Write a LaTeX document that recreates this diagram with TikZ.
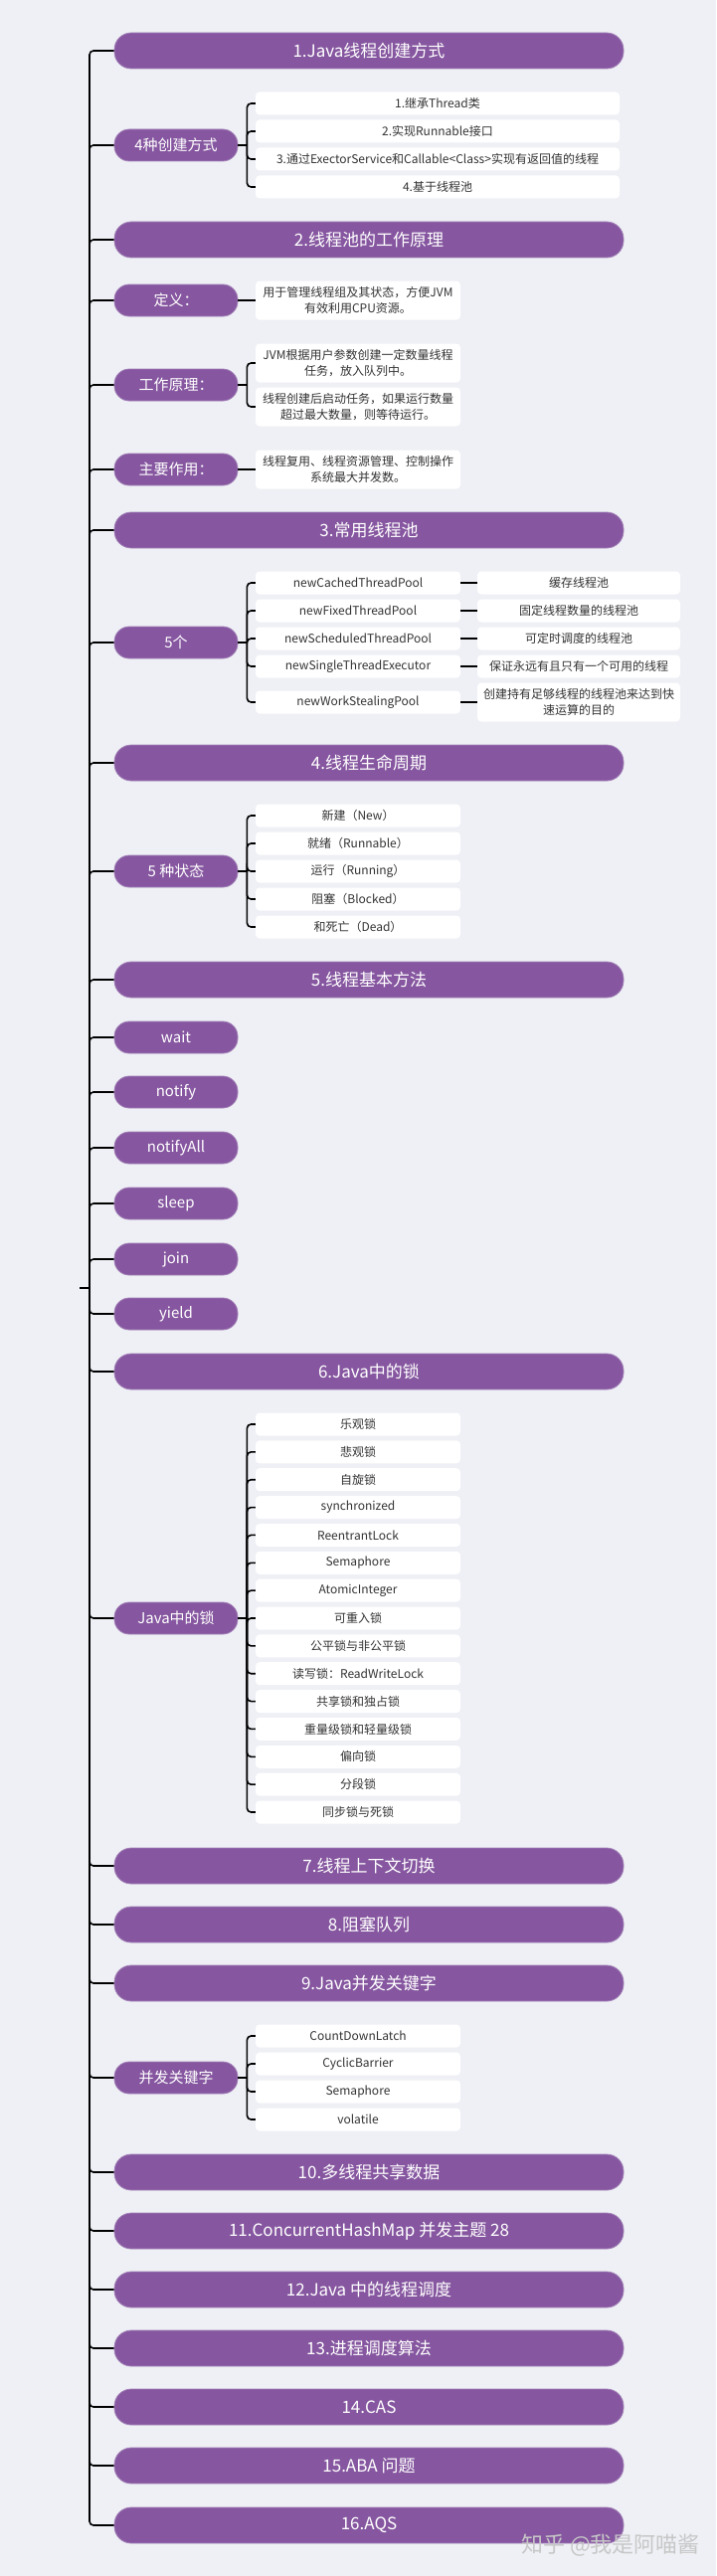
\documentclass[tikz,border=0pt]{standalone}
\usepackage{fontspec}
\setmainfont{Noto Sans CJK SC}
\definecolor{topicpurple}{RGB}{134,87,160}
\definecolor{pagebg}{RGB}{238,240,245}
\definecolor{leaftext}{RGB}{51,51,51}

\begin{document}
\begin{tikzpicture}[x=1pt, y=-1pt,
  every node/.style={align=center, inner sep=0pt},
  topicbar/.style={fill=topicpurple, draw=topicpurple!75!white, line width=0.8pt, rounded corners=17pt, minimum width=512pt, minimum height=36pt, text=white, font=\fontsize{17}{20}\selectfont},
  subtopic/.style={fill=topicpurple, draw=topicpurple!75!white, line width=0.8pt, rounded corners=15pt, minimum width=124pt, minimum height=32pt, text=white, font=\fontsize{15}{18}\selectfont},
  leafbox/.style={fill=white, rounded corners=4pt, minimum width=206pt, minimum height=23pt, text=leaftext, font=\fontsize{12}{16}\selectfont},
  widebox/.style={leafbox, minimum width=366pt},
  sidebox/.style={leafbox, minimum width=204pt},
  twoline/.style={minimum height=39pt},
  linkline/.style={line width=1.6pt, rounded corners=4pt}]
\fill[pagebg] (0,0) rectangle (720,2590);
\useasboundingbox (0,0) rectangle (720,2590);

% main topics
\node[topicbar] (t1) at (371,51) {1.Java线程创建方式};
\node[topicbar] (t2) at (371,241) {2.线程池的工作原理};
\node[topicbar] (t3) at (371,533) {3.常用线程池};
\node[topicbar] (t4) at (371,767) {4.线程生命周期};
\node[topicbar] (t5) at (371,985) {5.线程基本方法};
\node[topicbar] (t6) at (371,1379) {6.Java中的锁};
\node[topicbar] (t7) at (371,1876) {7.线程上下文切换};
\node[topicbar] (t8) at (371,1935) {8.阻塞队列};
\node[topicbar] (t9) at (371,1994) {9.Java并发关键字};
\node[topicbar] (t10) at (371,2184) {10.多线程共享数据};
\node[topicbar] (t11) at (371,2243) {11.ConcurrentHashMap 并发主题 28};
\node[topicbar] (t12) at (371,2302) {12.Java 中的线程调度};
\node[topicbar] (t13) at (371,2361) {13.进程调度算法};
\node[topicbar] (t14) at (371,2420) {14.CAS};
\node[topicbar] (t15) at (371,2479) {15.ABA 问题};
\node[topicbar] (t16) at (371,2539) {16.AQS};

% 1
\node[subtopic] (a1) at (177,146) {4种创建方式};
\node[widebox] (a1l1) at (440,104) {1.继承Thread类};
\node[widebox] (a1l2) at (440,132) {2.实现Runnable接口};
\node[widebox] (a1l3) at (440,160) {3.通过ExectorService和Callable<Class>实现有返回值的线程};
\node[widebox] (a1l4) at (440,188) {4.基于线程池};

% 2
\node[subtopic] (b1) at (177,302) {定义：};
\node[leafbox, twoline] (b1l1) at (360,302) {用于管理线程组及其状态，方便JVM\\有效利用CPU资源。};
\node[subtopic] (b2) at (177,387) {工作原理：};
\node[leafbox, twoline] (b2l1) at (360,365) {JVM根据用户参数创建一定数量线程\\任务，放入队列中。};
\node[leafbox, twoline] (b2l2) at (360,409) {线程创建后启动任务，如果运行数量\\超过最大数量，则等待运行。};
\node[subtopic] (b3) at (177,472) {主要作用：};
\node[leafbox, twoline] (b3l1) at (360,472) {线程复用、线程资源管理、控制操作\\系统最大并发数。};

% 3
\node[subtopic] (c1) at (177,646) {5个};
\node[leafbox] (c1l1) at (360,586) {newCachedThreadPool};
\node[leafbox] (c1l2) at (360,614) {newFixedThreadPool};
\node[leafbox] (c1l3) at (360,642) {newScheduledThreadPool};
\node[leafbox] (c1l4) at (360,670) {newSingleThreadExecutor};
\node[leafbox] (c1l5) at (360,706) {newWorkStealingPool};
\node[sidebox] (c1r1) at (582,586) {缓存线程池};
\node[sidebox] (c1r2) at (582,614) {固定线程数量的线程池};
\node[sidebox] (c1r3) at (582,642) {可定时调度的线程池};
\node[sidebox] (c1r4) at (582,670) {保证永远有且只有一个可用的线程};
\node[sidebox, twoline] (c1r5) at (582,706) {创建持有足够线程的线程池来达到快\\速运算的目的};

% 4
\node[subtopic] (d1) at (177,876) {5 种状态};
\node[leafbox] (d1l1) at (360,820) {新建（New）};
\node[leafbox] (d1l2) at (360,848) {就绪（Runnable）};
\node[leafbox] (d1l3) at (360,876) {运行（Running）};
\node[leafbox] (d1l4) at (360,904) {阻塞（Blocked）};
\node[leafbox] (d1l5) at (360,932) {和死亡（Dead）};

% 5
\node[subtopic] (m1) at (177,1043) {wait};
\node[subtopic] (m2) at (177,1098) {notify};
\node[subtopic] (m3) at (177,1154) {notifyAll};
\node[subtopic] (m4) at (177,1210) {sleep};
\node[subtopic] (m5) at (177,1266) {join};
\node[subtopic] (m6) at (177,1321) {yield};

% 6
\node[subtopic] (k1) at (177,1627) {Java中的锁};
\foreach \txt [count=\i] in {乐观锁, 悲观锁, 自旋锁, synchronized, ReentrantLock, Semaphore, AtomicInteger, 可重入锁, 公平锁与非公平锁, 读写锁：ReadWriteLock, 共享锁和独占锁, 重量级锁和轻量级锁, 偏向锁, 分段锁, 同步锁与死锁}
  \node[leafbox] (k1l\i) at (360,{1432+27.857*(\i-1)}) {\txt};

% 9
\node[subtopic] (j1) at (177,2089) {并发关键字};
\node[leafbox] (j1l1) at (360,2047) {CountDownLatch};
\node[leafbox] (j1l2) at (360,2075) {CyclicBarrier};
\node[leafbox] (j1l3) at (360,2103) {Semaphore};
\node[leafbox] (j1l4) at (360,2131) {volatile};

% trunk
\coordinate (stub) at (80,1295);
\coordinate (hub) at (90,1295);
\draw[linkline] (stub) -- (hub);
\foreach \n in {t1,a1,t2,b1,b2,b3,t3,c1,t4,d1,t5,m1,m2,m3,m4,m5,m6,t6,k1,t7,t8,t9,j1,t10,t11,t12,t13,t14,t15,t16}
  \draw[linkline] (hub) |- (\n.west);

% brackets
\foreach \p/\last in {a1/4, b2/2, c1/5, d1/5, k1/15, j1/4} {
  \coordinate (\p b) at ([xshift=9pt]\p.east);
  \draw[linkline] (\p.east) -- (\p b);
  \foreach \i in {1,...,\last}
    \draw[linkline] (\p b) |- (\p l\i.west);
}
\draw[linkline] (b1.east) -- (b1l1.west);
\draw[linkline] (b3.east) -- (b3l1.west);
\foreach \i in {1,...,5}
  \draw[linkline] (c1l\i.east) -- (c1r\i.west);

\node[text=black!22, font=\fontsize{22}{26}\selectfont] (mark) at (614,2559) {知乎 @我是阿喵酱};
\end{tikzpicture}
\end{document}
